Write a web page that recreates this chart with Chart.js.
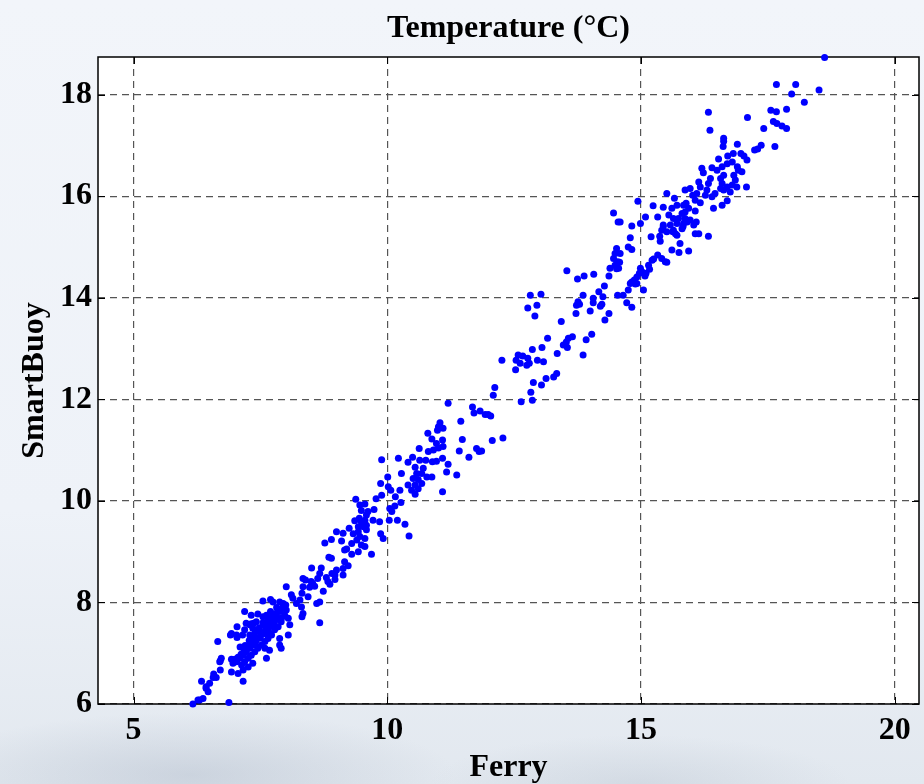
<!DOCTYPE html>
<html>
<head>
<meta charset="utf-8">
<title>Temperature (°C)</title>
<script src="https://cdn.jsdelivr.net/npm/chart.js@4.4.1/dist/chart.umd.min.js"></script>
<style>
  html, body { margin: 0; padding: 0; }
  body {
    width: 924px;
    height: 784px;
    overflow: hidden;
    background:
      radial-gradient(ellipse 380px 90px at 190px 775px, rgba(160,172,190,0.35), rgba(160,172,190,0) 70%),
      radial-gradient(ellipse 300px 70px at 640px 784px, rgba(175,186,200,0.30), rgba(175,186,200,0) 70%),
      linear-gradient(#f2f5fa 0%, #eef2f8 65%, #e2e8ef 100%);
  }
  canvas { display: block; }
</style>
</head>
<body>
<canvas id="chart" width="924" height="784"></canvas>
<script>
// Ferry vs SmartBuoy sea temperature, one point per matched sample (°C)
const ferry = [
  18.62, 17.67, 18.05, 18.51, 17.97, 18.22, 17.56, 17.67, 17.87, 16.33,
  16.36, 17.10, 17.42, 17.61, 17.68, 17.78, 17.87, 17.64, 17.37, 17.30,
  17.24, 16.63, 16.63, 16.62, 16.90, 16.82, 16.71, 16.97, 17.03, 17.09,
  16.53, 16.20, 16.23, 16.40, 16.50, 16.60, 16.63, 16.70, 16.80, 16.90,
  16.92, 16.99, 16.83, 16.86, 16.80, 16.89, 17.08, 16.57, 16.60, 16.57,
  16.63, 16.70, 16.76, 16.46, 16.37, 16.33, 16.17, 16.14, 16.30, 16.27,
  16.40, 16.10, 15.97, 15.87, 16.02, 16.07, 16.17, 15.89, 15.66, 15.51,
  14.94, 15.24, 15.44, 15.61, 15.71, 15.84, 15.94, 16.07, 15.09, 15.33,
  15.55, 15.64, 15.81, 15.87, 15.97, 16.09, 15.44, 15.58, 15.71, 15.84,
  14.82, 14.99, 14.59, 16.43, 16.60, 16.70, 14.46, 14.55, 15.44, 15.74,
  15.91, 16.04, 15.41, 15.51, 15.64, 15.71, 15.81, 16.07, 16.14, 16.33,
  15.20, 15.37, 15.38, 14.79, 15.77, 15.61, 15.75, 15.94, 14.75, 14.82,
  14.52, 14.49, 14.59, 14.46, 14.54, 14.49, 15.33, 15.41, 15.48, 15.22,
  15.15, 13.54, 14.39, 14.56, 14.99, 15.68, 15.87, 15.83, 15.63, 14.58,
  14.52, 15.25, 15.51, 15.17, 15.10, 15.02, 14.97, 15.08, 14.92, 14.87,
  14.82, 14.79, 14.89, 14.92, 15.05, 14.75, 14.65, 14.54, 14.72, 14.82,
  14.37, 14.28, 14.17, 14.25, 14.07, 13.88, 13.75, 13.86, 13.76, 13.73,
  13.79, 14.06, 14.06, 14.20, 14.23, 14.37, 14.29, 14.00, 13.72, 13.43,
  14.03, 13.92, 13.86, 13.65, 13.57, 13.53, 13.47, 13.55, 13.35, 13.16,
  13.05, 12.86, 12.58, 12.67, 12.54, 12.62, 12.53, 12.77, 12.80, 12.75,
  12.96, 13.08, 13.34, 13.28, 13.13, 13.04, 12.88, 12.83, 12.86, 12.64,
  12.26, 12.12, 12.09, 12.82, 13.03, 12.77, 12.95, 12.91, 11.20, 11.68,
  11.71, 11.83, 11.93, 11.99, 12.04, 11.45, 11.04, 11.10, 11.01, 10.99,
  10.80, 10.88, 10.97, 11.09, 11.10, 11.01, 10.91, 11.48, 12.07, 12.28,
  11.42, 11.61, 11.76, 11.81, 11.86, 10.63, 10.81, 9.89, 10.22, 10.41,
  10.50, 10.64, 10.76, 10.89, 10.97, 11.09, 11.20, 10.55, 10.71, 10.58,
  10.68, 10.78, 10.88, 10.51, 10.61, 10.41, 10.55, 10.68, 10.48, 10.61,
  10.55, 11.17, 11.37, 11.09, 10.28, 10.25, 10.01, 9.87, 10.02, 10.07,
  9.89, 9.78, 10.16, 10.27, 10.15, 10.05, 10.09, 10.04, 10.20, 10.35,
  10.43, 9.38, 9.46, 9.56, 9.49, 9.62, 9.74, 9.45, 9.56, 9.36,
  9.43, 9.53, 9.59, 9.43, 9.33, 9.25, 9.13, 9.00, 8.90, 8.77,
  9.10, 9.30, 9.40, 9.49, 9.56, 9.43, 9.30, 9.16, 9.69, 9.85,
  9.87, 9.92, 8.90, 8.85, 9.16, 9.13, 9.00, 8.91, 8.70, 8.67,
  8.51, 9.72, 9.59, 9.49, 9.59, 9.46, 9.56, 9.20, 9.23, 8.97,
  8.80, 9.13, 8.34, 8.63, 8.50, 8.53, 8.39, 8.34, 8.47, 8.57,
  8.97, 8.83, 8.87, 8.74, 8.67, 8.61, 8.44, 8.32, 8.28, 8.21,
  8.11, 8.14, 8.01, 8.67, 8.32, 8.05, 7.88, 7.91, 7.70, 7.55,
  7.19, 7.45, 7.55, 7.04, 6.91, 7.04, 7.15, 6.66, 7.29, 7.37,
  6.73, 6.71, 6.71, 6.93, 7.16, 6.34, 6.58, 6.63, 6.50, 6.43,
  6.47, 6.37, 6.30, 6.17, 6.88, 8.31, 8.34, 7.95, 8.01, 7.88,
  7.98, 8.05, 7.82, 7.91, 7.75, 7.85, 7.68, 7.78, 7.62, 7.72,
  7.55, 7.65, 7.49, 7.59, 7.42, 7.52, 7.35, 7.45, 7.29, 7.39,
  7.22, 7.32, 7.16, 7.26, 7.09, 7.19, 7.03, 7.13, 6.96, 7.29,
  7.35, 7.19, 7.03, 6.93, 7.32, 7.42, 7.59, 7.68, 7.62, 7.88,
  8.08, 7.35, 7.26, 7.16, 7.06, 6.93, 6.70, 6.57, 6.43, 6.27,
  7.22, 7.32, 7.88, 7.75, 7.40, 7.48, 7.58, 7.66, 7.72, 7.80,
  7.86, 7.93, 7.52, 7.60, 7.70, 7.78, 7.84, 7.45, 7.38, 7.30,
  7.25, 7.18, 7.12, 7.06, 7.00, 7.40, 7.50, 7.62, 7.36, 7.28,
  7.20, 7.10, 7.47, 7.55, 7.65, 7.75, 7.82, 7.70, 7.62, 7.95,
  8.00, 7.92, 7.80, 7.68
];

const smartBuoy = [
  18.73, 18.20, 18.20, 18.09, 18.01, 17.85, 17.69, 17.66, 17.71, 17.65,
  17.30, 17.55, 17.33, 17.47, 17.43, 17.38, 17.33, 16.98, 17.00, 16.93,
  16.91, 17.14, 17.08, 16.98, 17.02, 16.84, 16.79, 16.84, 16.79, 16.71,
  16.73, 16.55, 16.46, 16.56, 16.51, 16.58, 16.41, 16.64, 16.67, 16.58,
  16.51, 16.48, 16.41, 16.32, 16.22, 16.18, 16.18, 16.35, 16.25, 16.15,
  16.12, 16.18, 16.08, 16.05, 16.35, 16.25, 16.18, 16.28, 16.12, 16.02,
  15.99, 16.05, 16.15, 16.12, 16.02, 15.92, 15.87, 15.86, 15.96, 16.05,
  15.90, 15.81, 15.78, 15.76, 15.82, 15.82, 15.76, 15.71, 15.59, 15.59,
  15.63, 15.56, 15.66, 15.56, 15.53, 15.49, 15.43, 15.43, 15.46, 15.46,
  15.41, 15.46, 15.49, 15.76, 15.82, 15.91, 15.67, 15.49, 15.40, 15.56,
  15.49, 15.43, 15.33, 15.30, 15.33, 15.23, 15.36, 15.26, 15.26, 15.21,
  15.20, 15.21, 15.11, 15.18, 15.07, 14.94, 14.89, 14.92, 15.00, 14.95,
  14.97, 14.87, 14.87, 14.77, 14.71, 14.64, 14.84, 14.77, 14.71, 14.74,
  14.64, 14.53, 14.58, 14.58, 14.58, 15.26, 15.69, 15.40, 15.30, 14.70,
  14.57, 14.76, 14.70, 14.56, 14.48, 14.51, 14.48, 14.43, 14.41, 14.35,
  14.31, 14.28, 14.27, 14.28, 14.15, 14.15, 14.05, 14.05, 13.90, 13.81,
  14.43, 14.23, 14.12, 14.02, 14.46, 14.43, 14.37, 14.05, 13.92, 13.85,
  13.87, 13.99, 13.90, 13.83, 13.87, 13.69, 13.56, 13.74, 13.69, 13.53,
  13.28, 13.17, 12.87, 13.23, 13.20, 13.13, 13.07, 13.02, 12.90, 13.20,
  13.02, 12.98, 12.87, 12.85, 12.77, 12.71, 12.58, 12.81, 12.71, 12.67,
  12.77, 12.74, 12.51, 12.44, 12.41, 12.28, 12.33, 12.14, 11.98, 11.95,
  12.77, 12.23, 12.08, 14.05, 14.07, 13.80, 13.85, 13.64, 11.92, 11.85,
  11.73, 11.77, 11.70, 11.70, 11.67, 11.57, 11.54, 11.43, 11.46, 11.39,
  11.33, 11.22, 11.13, 11.20, 11.07, 11.04, 11.00, 11.21, 11.19, 11.24,
  10.98, 10.86, 11.03, 10.97, 10.98, 11.03, 10.97, 10.81, 10.84, 10.76,
  10.86, 10.80, 10.80, 10.77, 10.78, 10.84, 10.72, 10.66, 10.64, 10.54,
  10.54, 10.47, 10.47, 10.44, 10.42, 10.31, 10.31, 10.34, 10.21, 10.24,
  10.13, 10.57, 10.51, 10.18, 10.54, 10.21, 10.47, 10.34, 10.28, 10.21,
  10.11, 10.04, 10.08, 9.97, 9.90, 9.85, 9.79, 9.62, 9.62, 9.54,
  9.31, 10.03, 9.92, 9.94, 9.81, 9.79, 9.83, 9.66, 9.62, 9.61,
  9.49, 9.49, 9.43, 9.39, 9.35, 9.46, 9.36, 9.39, 9.24, 9.17,
  9.21, 9.16, 9.23, 9.13, 9.10, 9.00, 8.95, 9.03, 8.95, 9.59,
  9.35, 9.26, 8.87, 8.89, 8.80, 8.67, 8.64, 8.57, 8.68, 8.57,
  8.68, 9.62, 9.72, 9.59, 9.52, 9.30, 9.26, 9.05, 8.72, 8.54,
  8.49, 8.54, 8.47, 8.47, 8.41, 8.38, 8.44, 8.31, 8.30, 8.32,
  8.45, 8.41, 8.36, 8.22, 8.01, 7.98, 8.11, 8.18, 8.05, 7.98,
  8.15, 8.08, 8.31, 7.60, 7.72, 7.36, 7.16, 7.10, 8.06, 8.03,
  7.82, 7.77, 7.72, 7.52, 7.36, 7.31, 7.36, 7.23, 7.56, 7.59,
  6.90, 6.85, 6.67, 6.88, 6.45, 6.45, 6.59, 6.52, 6.41, 6.31,
  6.24, 6.11, 6.08, 6.00, 6.03, 7.91, 7.78, 7.92, 7.85, 7.82,
  7.75, 7.69, 7.72, 7.62, 7.62, 7.52, 7.52, 7.46, 7.46, 7.36,
  7.39, 7.29, 7.32, 7.23, 7.26, 7.16, 7.16, 7.10, 7.10, 7.03,
  7.03, 6.96, 6.96, 6.90, 6.90, 6.83, 6.83, 6.77, 6.80, 7.36,
  7.49, 7.46, 7.36, 7.39, 7.58, 7.62, 7.10, 7.06, 6.90, 7.29,
  7.56, 6.80, 6.73, 6.67, 6.60, 6.63, 6.83, 6.52, 6.34, 6.08,
  7.59, 7.75, 8.01, 8.01, 7.42, 7.50, 7.55, 7.62, 7.70, 7.78,
  7.85, 7.88, 7.40, 7.45, 7.55, 7.62, 7.68, 7.30, 7.24, 7.18,
  7.10, 7.05, 6.98, 6.92, 6.88, 7.20, 7.30, 7.38, 7.33, 7.25,
  7.15, 7.12, 7.45, 7.60, 7.68, 7.75, 7.90, 7.82, 7.75, 7.98,
  7.95, 7.70, 7.50, 7.40
];

const xTicks = [5, 10, 15, 20];
const yTicks = [6, 8, 10, 12, 14, 16, 18];
const xRange = [4.3, 20.48];
const yRange = [6, 18.74];

const serif = "'Liberation Serif', 'Times New Roman', Times, serif";
const boldFont = (size, lineHeight) => ({ family: serif, size: size, weight: 'bold', lineHeight: lineHeight || 1.2 });

// white plot box, solid frame and short inward tick marks
const frame = {
  id: 'frame',
  beforeDraw(chart) {
    const { ctx, chartArea: a } = chart;
    ctx.save();
    ctx.fillStyle = '#ffffff';
    ctx.fillRect(a.left, a.top, a.right - a.left, a.bottom - a.top);
    ctx.restore();
  },
  beforeDatasetsDraw(chart) {
    const { ctx, chartArea: a, scales } = chart;
    ctx.save();
    ctx.strokeStyle = '#000000';
    ctx.lineWidth = 1.5;
    ctx.strokeRect(a.left, a.top, a.right - a.left, a.bottom - a.top);
    ctx.lineWidth = 1;
    ctx.beginPath();
    const len = 7;
    xTicks.forEach(v => {
      const px = Math.round(scales.x.getPixelForValue(v)) + 0.5;
      ctx.moveTo(px, a.bottom); ctx.lineTo(px, a.bottom - len);
      ctx.moveTo(px, a.top); ctx.lineTo(px, a.top + len);
    });
    yTicks.forEach(v => {
      const py = Math.round(scales.y.getPixelForValue(v)) + 0.5;
      ctx.moveTo(a.left, py); ctx.lineTo(a.left + len, py);
      ctx.moveTo(a.right, py); ctx.lineTo(a.right - len, py);
    });
    ctx.stroke();
    ctx.restore();
  }
};

const points = ferry.map((x, i) => ({ x: x, y: smartBuoy[i] }));

new Chart(document.getElementById('chart'), {
  type: 'scatter',
  data: {
    datasets: [{
      label: 'SmartBuoy vs Ferry',
      data: points,
      pointRadius: 3.5,
      pointHoverRadius: 3.5,
      pointBorderWidth: 0,
      pointBackgroundColor: '#0000ff',
      clip: false
    }]
  },
  options: {
    responsive: false,
    animation: false,
    layout: { padding: { left: 0, right: 5, top: 0, bottom: 0 } },
    plugins: {
      legend: { display: false },
      tooltip: { enabled: false },
      title: { display: false }
    },
    scales: {
      x: {
        type: 'linear',
        position: 'bottom',
        min: xRange[0],
        max: xRange[1],
        afterBuildTicks: s => { s.ticks = xTicks.map(v => ({ value: v })); },
        afterFit: s => { s.height = 80; },
        grid: { color: '#555555', lineWidth: 1.2, drawTicks: false },
        border: { display: false, dash: [7, 5] },
        ticks: { color: '#000', font: boldFont(32), padding: 8, maxRotation: 0 },
        title: { display: true, text: 'Ferry', color: '#000', font: boldFont(32, 1.0), padding: { top: 0, bottom: 0 } }
      },
      xTop: {
        type: 'linear',
        position: 'top',
        min: xRange[0],
        max: xRange[1],
        afterFit: s => { s.height = 57; },
        grid: { display: false },
        border: { display: false },
        ticks: { display: false },
        title: { display: true, text: 'Temperature (°C)', color: '#000', font: boldFont(32), padding: { top: 10, bottom: 0 } }
      },
      y: {
        type: 'linear',
        position: 'left',
        min: yRange[0],
        max: yRange[1],
        afterBuildTicks: s => { s.ticks = yTicks.map(v => ({ value: v })); },
        afterFit: s => { s.width = 98; },
        grid: { color: '#555555', lineWidth: 1.2, drawTicks: false },
        border: { display: false, dash: [7, 5] },
        ticks: { color: '#000', font: boldFont(32), padding: 6 },
        title: { display: true, text: 'SmartBuoy', color: '#000', font: boldFont(32), padding: { top: 16, bottom: 0 } }
      }
    }
  },
  plugins: [frame]
});
</script>
</body>
</html>
